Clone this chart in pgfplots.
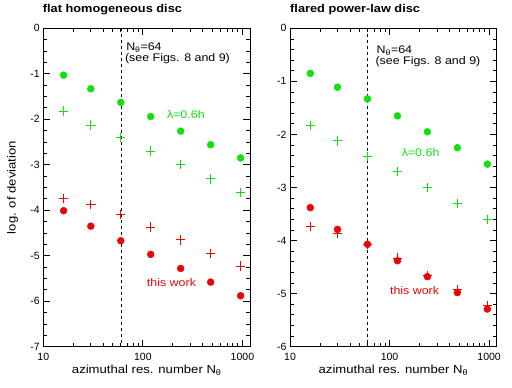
\documentclass[border=0pt]{standalone}
\usepackage{fontspec}
\setmainfont{Liberation Sans}
\newfontfamily\widefont{Liberation Sans}[FakeStretch=1.13]
\usepackage{pgfplots}
\pgfplotsset{compat=1.18}
\definecolor{dgreen}{RGB}{15,225,15}
\definecolor{dred}{RGB}{232,5,5}

\pgfplotsset{
  gcirc/.style={only marks, mark=*, mark size=3.5pt, color=dgreen},
  rcirc/.style={only marks, mark=*, mark size=3.5pt, color=dred},
  gplus/.style={only marks, mark=+, mark size=4.7pt, color=dgreen, line width=1.1pt},
  rplus/.style={only marks, mark=+, mark size=4.7pt, color=dred, line width=1.1pt},
}
\tikzset{annot/.style={font=\widefont\fontsize{11}{13}\selectfont, inner sep=0pt}}

\begin{document}
\begin{tikzpicture}
\useasboundingbox (0,0) rectangle (512pt,388pt);
\node[anchor=base west, inner sep=0pt, font=\widefont\bfseries\fontsize{11.3}{13}\selectfont] at (42.7pt,375.5pt) {flat homogeneous disc};
\node[anchor=base west, inner sep=0pt, font=\widefont\bfseries\fontsize{11.3}{13}\selectfont] at (290pt,375.5pt) {flared power-law disc};

% left panel
\begin{axis}[
  at={(43.3pt,41.3pt)}, anchor=south west,
  scale only axis, width=207pt, height=318.4pt,
  xmode=log, xmin=10, xmax=1200,
  xtick={10,100,1000}, xticklabels={10,100,1000},
  minor xtick={20,30,40,50,60,70,80,90,200,300,400,500,600,700,800,900},
  ymin=-7, ymax=0, ytick={-7,-6,...,0}, minor y tick num=3,
  tick align=inside, tick pos=both,
  major tick length=7pt, minor tick length=4pt,
  axis line style={line width=1pt}, tick style={line width=0.8pt, black},
  /pgf/number format/assume math mode=true,
  tick label style={font=\fontsize{10.5}{12}\selectfont},
  xticklabel style={yshift=-3pt},
  label style={font=\widefont\fontsize{11.6}{14}\selectfont},
  xlabel={azimuthal res. number N\textsubscript{θ}},
  xlabel style={at={(axis description cs:0.5,0)}, anchor=base, yshift=-26.7pt},
  ylabel={log. of deviation},
  ylabel style={at={(axis description cs:-0.148,0.5)}, anchor=center},
  clip=false,
]
\addplot[black, dashed, line width=0.8pt] coordinates {(61,0) (61,-7)};
\addplot[gplus] coordinates {(16,-1.82) (30,-2.13) (60,-2.40) (120,-2.70) (240,-3.00) (480,-3.31) (960,-3.61)};
\addplot[rplus] coordinates {(16,-3.74) (30,-3.87) (60,-4.09) (120,-4.37) (240,-4.65) (480,-4.95) (960,-5.23)};
\addplot[gcirc] coordinates {(16,-1.03) (30,-1.33) (60,-1.63) (120,-1.94) (240,-2.26) (480,-2.56) (960,-2.85)};
\addplot[rcirc] coordinates {(16,-4.01) (30,-4.35) (60,-4.67) (120,-4.97) (240,-5.28) (480,-5.58) (960,-5.88)};
\node[annot, anchor=base west] at (axis cs:67.8,-0.492) {N\textsubscript{θ}=64};
\node[annot, anchor=base west] at (axis cs:66,-0.719) {(see Figs. 8 and 9)};
\node[annot, anchor=base west, text=dgreen] at (axis cs:174,-1.994) {λ=0.6h};
\node[annot, anchor=base west, text=dred] at (axis cs:109.4,-5.687) {this work};
\end{axis}

% right panel
\begin{axis}[
  at={(290pt,41.3pt)}, anchor=south west,
  scale only axis, width=207pt, height=318.4pt,
  xmode=log, xmin=10, xmax=1200,
  xtick={10,100,1000}, xticklabels={10,100,1000},
  minor xtick={20,30,40,50,60,70,80,90,200,300,400,500,600,700,800,900},
  ymin=-6, ymax=0, ytick={-6,-5,...,0}, minor y tick num=4,
  tick align=inside, tick pos=both,
  major tick length=7pt, minor tick length=4pt,
  axis line style={line width=1pt}, tick style={line width=0.8pt, black},
  /pgf/number format/assume math mode=true,
  tick label style={font=\fontsize{10.5}{12}\selectfont},
  xticklabel style={yshift=-3pt},
  label style={font=\widefont\fontsize{11.6}{14}\selectfont},
  xlabel={azimuthal res. number N\textsubscript{θ}},
  xlabel style={at={(axis description cs:0.5,0)}, anchor=base, yshift=-26.7pt},
  clip=false,
]
\addplot[black, dashed, line width=0.8pt] coordinates {(60.5,0) (60.5,-6)};
\addplot[gplus] coordinates {(16,-1.83) (30,-2.12) (60,-2.42) (120,-2.70) (240,-3.00) (480,-3.30) (960,-3.60)};
\addplot[rplus] coordinates {(16,-3.73) (30,-3.86) (60,-4.07) (120,-4.33) (240,-4.66) (480,-4.93) (960,-5.23)};
\addplot[gcirc] coordinates {(16,-0.85) (30,-1.11) (60,-1.33) (120,-1.65) (240,-1.95) (480,-2.25) (960,-2.56)};
\addplot[rcirc] coordinates {(16,-3.38) (30,-3.79) (60,-4.07) (120,-4.38) (240,-4.68) (480,-4.98) (960,-5.29)};
\node[annot, anchor=base west] at (axis cs:74,-0.484) {N\textsubscript{θ}=64};
\node[annot, anchor=base west] at (axis cs:72,-0.673) {(see Figs. 8 and 9)};
\node[annot, anchor=base west, text=dgreen] at (axis cs:132,-2.42) {λ=0.6h};
\node[annot, anchor=base west, text=dred] at (axis cs:100.7,-5.025) {this work};
\end{axis}
\end{tikzpicture}
\end{document}
